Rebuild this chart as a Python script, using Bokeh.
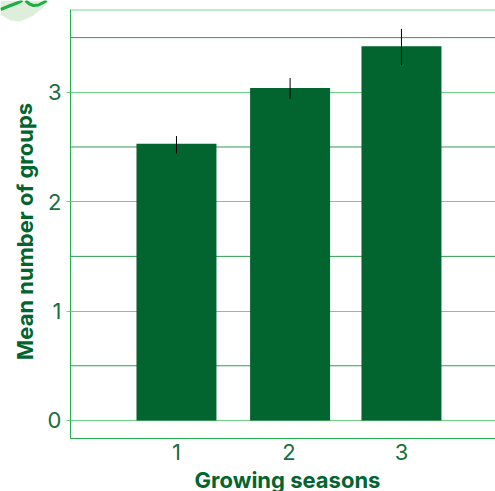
from bokeh.plotting import figure
from bokeh.core.properties import value
from bokeh.layouts import column
from bokeh.embed import file_html
from bokeh.resources import INLINE
from bokeh.models import Span, FixedTicker, ColumnDataSource
import math

seasons = [1, 2, 3]
bar_positions = [1.0, 2.01, 3.0]
means = [2.53, 3.04, 3.42]
err_low = [2.44, 2.94, 3.25]
err_high = [2.60, 3.13, 3.58]
x_label = "Growing seasons"
y_label = "Mean number of groups"
y_ticks = [0, 1, 2, 3]
minor_lines = [0.5, 1.5, 2.5, 3.5]

DARK = "#026530"
TEXT = "#1b6e40"
LINE = "#22b14c"

p = figure(width=495, height=491, output_backend="svg", toolbar_location=None,
           x_range=(0.058, 3.836), y_range=(-0.165, 3.757),
           min_border_left=70, min_border_right=0, min_border_top=9, min_border_bottom=53,
           margin=(0, 0, 0, 0), frame_align=False)
p.outline_line_color = None
p.xgrid.visible = False
p.ygrid.ticker = FixedTicker(ticks=y_ticks)
p.ygrid.grid_line_color = "#6fd088"
p.ygrid.grid_line_width = 1.2

for v in minor_lines:
    p.add_layout(Span(location=v, dimension="width", line_color="#2f9e4f", line_width=1, level="underlay"))
p.add_layout(Span(location=3.757, dimension="width", line_color="#7ad694", line_width=2, level="underlay"))

src = ColumnDataSource(dict(x=bar_positions, top=means, lo=err_low, hi=err_high))
p.vbar(x="x", top="top", bottom=0, width=0.711, color=DARK, line_color=None, source=src)
p.segment(x0="x", x1="x", y0="lo", y1="hi", line_color="black", line_width=1, source=src)

p.xaxis.ticker = FixedTicker(ticks=seasons)
p.yaxis.ticker = FixedTicker(ticks=y_ticks)
for ax in (p.xaxis[0], p.yaxis[0]):
    ax.axis_line_color = LINE
    ax.axis_line_width = 1
    ax.major_tick_in = 0
    ax.minor_tick_line_color = None
    ax.major_label_text_font = "Inter"
    ax.major_label_text_font_size = "22px"
    ax.major_label_text_font_style = "normal"
    ax.major_label_text_color = TEXT
p.xaxis.major_tick_line_color = None
p.xaxis.major_label_standoff = -1
p.yaxis.major_tick_out = 4
p.yaxis.major_tick_line_color = "#6fd088"
p.yaxis.major_label_standoff = 5
p.yaxis.major_label_orientation = "horizontal"

# transparent sheet over the whole page for the corner decoration and the two axis titles
sheet = figure(width=495, height=491, output_backend="svg", toolbar_location=None,
               x_range=(0, 495), y_range=(491, 0), x_axis_type=None, y_axis_type=None,
               min_border=0, margin=(-491, 0, 0, 0), frame_align=False)
sheet.background_fill_color = None
sheet.border_fill_color = None
sheet.outline_line_color = None
sheet.grid.visible = False
sheet.patch([0, 0, 10, 20, 33, 45, 49, 49], [0, 14, 20, 21, 15, 5, 0, 0], color="#dfeeda", line_color=None)
sheet.line([0, 5, 10, 18, 22], [9, 7, 5, 2, 0], line_color="#1fae45", line_width=3)
sheet.line([25, 29, 33, 38, 43, 46], [0, 3.5, 5, 4.5, 2, 0], line_color="#1fae45", line_width=3)
title_font = dict(text_font=value("Inter"), text_font_style="bold", text_font_size="22px",
                  text_color=DARK, text_align="center", text_baseline="middle")
sheet.text(x=[287], y=[479], text=[x_label], **title_font)
sheet.text(x=[24], y=[231], text=[y_label], angle=[math.pi / 2], **title_font)

page = column(p, sheet, spacing=0, margin=(0, 0, 0, 0))
open("out.html", "w").write(file_html(page, INLINE))
